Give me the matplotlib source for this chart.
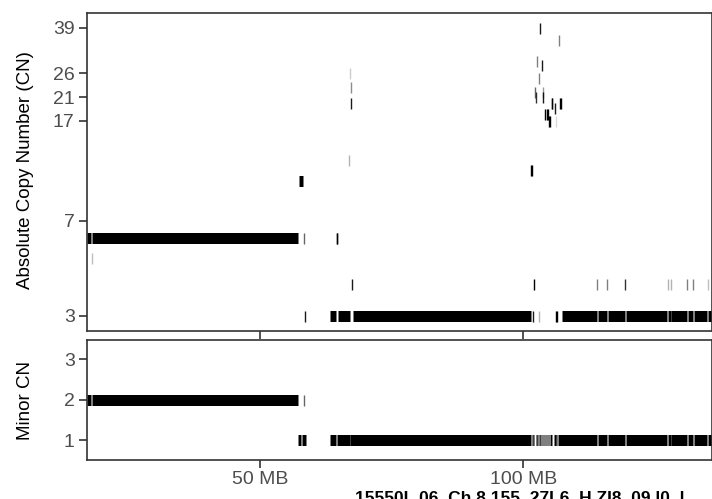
import matplotlib.pyplot as plt

plt.rcParams['font.family'] = ['Liberation Sans', 'DejaVu Sans']

# total copy number segments (MB)
seg_start = [16.9, 57.25, 63.19, 64.71, 67.51, 107.41]
seg_end = [57.16, 58.0, 64.33, 67.0, 101.46, 137.0]
seg_cn = [6, 10, 3, 3, 3, 3]
seg_gaps = [17.9, 114.08, 115.98, 119.41, 127.48, 128.11, 131.21, 132.35, 135.09]

# single probes in the total CN panel
pt_x = [17.9, 58.2, 58.43, 64.55, 64.65, 66.8, 67.2, 67.2, 67.05, 67.44,
        101.55, 101.65, 101.78, 102.08, 103.04, 106.3, 106.45,
        103.23, 106.79, 102.6, 103.5, 102.98, 102.3, 102.4, 103.7, 103.8,
        105.45, 105.55, 106.02, 107.0, 107.2, 104.2, 104.45, 104.65,
        104.85, 105.1, 106.27,
        114.08, 115.98, 119.41, 127.48, 128.11, 131.21, 132.35, 135.09]
pt_cn = [5, 6, 3, 6, 6, 12, 20, 23, 26, 4,
         11, 11, 3, 4, 3, 3, 3,
         39, 35, 29, 28, 25, 22, 21, 22, 21,
         20, 20, 19, 20, 20, 18, 18, 18,
         17, 17, 17,
         4, 4, 4, 4, 4, 4, 4, 4]
pt_alpha = [0.25, 0.6, 0.9, 1.0, 1.0, 0.3, 0.9, 0.45, 0.2, 0.9,
            1.0, 1.0, 0.9, 1.0, 0.3, 1.0, 1.0,
            0.9, 0.5, 0.5, 0.9, 0.5, 0.6, 0.8, 0.4, 0.9,
            0.9, 0.9, 0.9, 1.0, 1.0, 1.0, 1.0, 1.0,
            1.0, 1.0, 0.15,
            0.5, 0.5, 0.8, 0.3, 0.3, 0.5, 0.5, 0.25]

# minor copy number
minor_start = [16.9, 57.23, 57.99, 63.19]
minor_end = [57.16, 57.67, 58.62, 137.0]
minor_cn = [2, 1, 1, 1]
minor_gaps = [17.9, 64.5, 67.05, 101.6, 101.85, 102.1, 102.35, 102.6, 102.9,
              103.2, 103.5, 103.8, 104.2, 104.6, 105.0, 105.5, 105.8, 106.2,
              106.5, 114.08, 115.98, 119.41, 127.48, 128.11, 131.21, 132.35,
              135.09]
minor_pt_x = [58.19]
minor_pt_cn = [2]
minor_pt_alpha = [0.6]

cn_ticks = [3, 7, 17, 21, 26, 39]
minor_ticks = [1, 2, 3]
x_ticks = [50, 100]
x_labels = ['50 MB', '100 MB']

caption = '15550L.06  Ch.8 155  27L6  H ZI8  09 l0  l'

axis_col = '#333333'
text_col = '#4d4d4d'
bar_lw = 11 * 72 / 100.0


def split(starts, ends, gaps, half=0.07):
    out = []
    for s, e in zip(starts, ends):
        cur = s
        for g in sorted(gaps):
            if s < g < e:
                out.append((cur, g - half))
                cur = g + half
        out.append((cur, e))
    return out


def draw_segs(ax, starts, ends, cns, gaps):
    for s, e, c in zip(starts, ends, cns):
        for a, b in split([s], [e], gaps):
            ax.hlines(c, a, b, colors='black', linewidth=bar_lw, capstyle='butt')


def draw_pts(ax, xs, cns, alphas):
    for x, c, a in zip(xs, cns, alphas):
        ax.plot([x], [c], marker='|', color='black', alpha=a,
                markersize=bar_lw, markeredgewidth=1.0, linestyle='none')


def style(ax):
    for sp in ax.spines.values():
        sp.set_color(axis_col)
        sp.set_linewidth(1.2)
    ax.tick_params(length=5.5, width=1.2, color=axis_col, labelcolor=text_col,
                   labelsize=14, pad=3)
    ax.set_xlim(16.9, 135.9)
    ax.set_xticks(x_ticks)


fig = plt.figure(figsize=(7.12, 4.99), dpi=100)
ax1 = fig.add_axes([86.5 / 712, 1 - 330.7 / 499, (712 - 86.5) / 712, (330.7 - 12.7) / 499])
ax2 = fig.add_axes([86.5 / 712, 1 - 459.5 / 499, (712 - 86.5) / 712, (459.5 - 340) / 499])

draw_segs(ax1, seg_start, seg_end, seg_cn, seg_gaps)
draw_pts(ax1, pt_x, pt_cn, pt_alpha)
ax1.set_yscale('log')
ax1.set_ylim(2.63, 44.5)
ax1.set_yticks(cn_ticks)
ax1.set_yticklabels([str(t) for t in cn_ticks])
ax1.minorticks_off()
style(ax1)
ax1.set_xticklabels([])

draw_segs(ax2, minor_start, minor_end, minor_cn, minor_gaps)
draw_pts(ax2, minor_pt_x, minor_pt_cn, minor_pt_alpha)
ax2.set_ylim(0.53, 3.47)
ax2.set_yticks(minor_ticks)
style(ax2)
ax2.set_xticklabels(x_labels)

fig.text(26 / 712, 1 - 170 / 499, 'Absolute Copy Number (CN)', rotation=90,
         ha='center', va='center', fontsize=13.5, color='black')
fig.text(26 / 712, 1 - 400 / 499, 'Minor CN', rotation=90,
         ha='center', va='center', fontsize=13.5, color='black')
# caption sits below the frame, only its top half shows (as in the source image)
fig.text(355 / 712, 1 - 503 / 499, caption, ha='left', va='baseline',
         fontsize=12.5, fontweight='bold', color='black')

fig.savefig('out.png', dpi=100)
